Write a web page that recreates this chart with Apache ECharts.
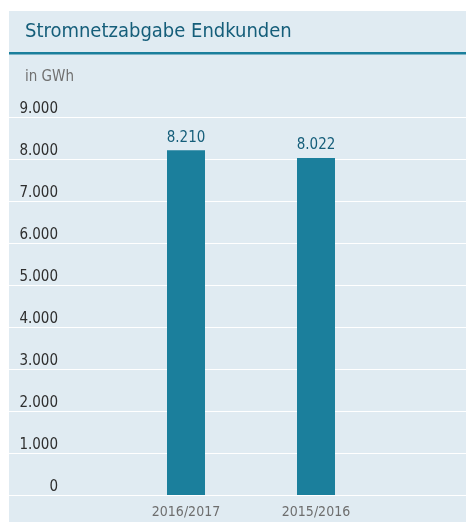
<!DOCTYPE html>
<html><head><meta charset="utf-8">
<script src="https://cdn.jsdelivr.net/npm/echarts@6/dist/echarts.min.js"></script>
<style>html,body{margin:0;padding:0;background:#fff}#c{width:466px;height:523px}</style>
</head><body><div id="c"></div>
<script>
const categories = ['2016/2017', '2015/2016'];
const values = [8210, 8022];
const yTicks = [0, 1000, 2000, 3000, 4000, 5000, 6000, 7000, 8000, 9000];
const titleText = 'Stromnetzabgabe Endkunden';
const unitText = 'in GWh';

const FONT = '"DejaVu Sans Condensed", "Liberation Sans Narrow", sans-serif';
function fmt(v){ return String(v).replace(/\B(?=(\d{3})+(?!\d))/g, '.'); }

const chart = echarts.init(document.getElementById('c'), null, {renderer:'canvas'});
chart.setOption({
  backgroundColor: '#ffffff',
  animation: false,
  graphic: [
    {type:'rect', z:-10, shape:{x:9,y:11,width:457,height:511}, style:{fill:'#e0ebf2'}},
    {type:'rect', z:-9, shape:{x:9,y:52,width:457,height:2.5}, style:{fill:'#1b7f9c'}},
    {type:'text', left:25, top:22, style:{text:titleText, fill:'#155e7a', font:'20px ' + FONT}},
    {type:'text', left:25, top:70, style:{text:unitText, fill:'#707070', font:'15px ' + FONT}}
  ],
  grid: [
    {left:9, right:0, top:117, bottom:28, containLabel:false},
    {left:121, right:85, top:117, bottom:28, containLabel:false}
  ],
  xAxis: [
    {type:'category', gridIndex:0, data:categories, show:false},
    {type:'category', gridIndex:1, data:categories,
     axisLine:{show:false}, axisTick:{show:false},
     axisLabel:{color:'#6e6e6e', fontFamily:FONT, fontSize:14, margin:10}}
  ],
  yAxis: [
    {type:'value', gridIndex:0, min:yTicks[0], max:yTicks[yTicks.length-1], interval:yTicks[1]-yTicks[0],
     axisLabel:{show:false}, axisLine:{show:false}, axisTick:{show:false},
     splitLine:{show:true, lineStyle:{color:'#ffffff', width:1.2}}},
    {type:'value', gridIndex:1, min:yTicks[0], max:yTicks[yTicks.length-1], interval:yTicks[1]-yTicks[0],
     axisLine:{show:false}, axisTick:{show:false}, splitLine:{show:false},
     axisLabel:{color:'#2e2e2e', fontFamily:FONT, fontSize:15, margin:63, verticalAlign:'bottom', lineHeight:15,
       formatter: v => fmt(v)}}
  ],
  series: [{
    type:'bar', xAxisIndex:1, yAxisIndex:1, data:values, barWidth:38,
    itemStyle:{color:'#1b7f9c'},
    label:{show:true, position:'top', distance:5, color:'#155e7a', fontFamily:FONT, fontSize:15,
      formatter: p => fmt(p.value)}
  }]
});
</script></body></html>
